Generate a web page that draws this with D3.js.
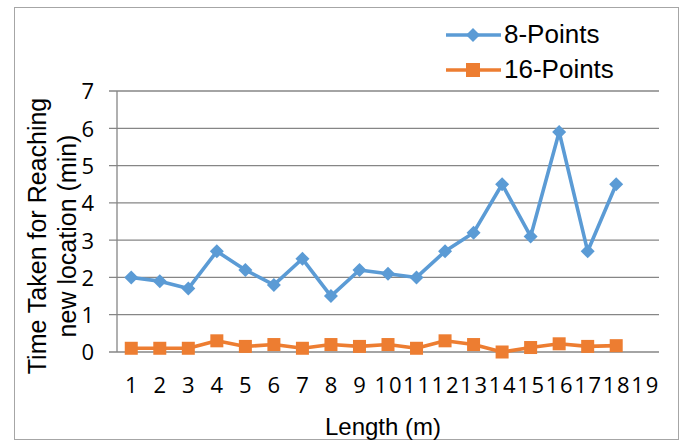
<!DOCTYPE html>
<html><head><meta charset="utf-8">
<script src="https://cdn.jsdelivr.net/npm/d3@7"></script>
<style>body{margin:0;background:#fff}svg{display:block}</style>
</head><body><svg id="c" width="683" height="441"></svg>
<script>
const categories = d3.range(1, 20).map(String);
const series8 = [2.0, 1.9, 1.7, 2.7, 2.2, 1.8, 2.5, 1.5, 2.2, 2.1, 2.0, 2.7, 3.2, 4.5, 3.1, 5.9, 2.7, 4.5];
const series16 = [0.1, 0.1, 0.1, 0.3, 0.15, 0.2, 0.1, 0.2, 0.15, 0.2, 0.1, 0.3, 0.2, 0.0, 0.12, 0.22, 0.15, 0.17];
const yTicks = [0, 1, 2, 3, 4, 5, 6, 7];
const seriesNames = ["8-Points", "16-Points"];
const colors = ["#5B9BD5", "#ED7D31"];

const svg = d3.select("#c");
const font = "'Liberation Sans', Arial, sans-serif";
const tickFont = "'Open Sans', 'Noto Sans', sans-serif";
svg.append("rect").attr("x", 14.5).attr("y", 7.5).attr("width", 664).attr("height", 432)
  .attr("fill", "#fff").attr("stroke", "#a6a6a6").attr("stroke-width", 1);

const L = 117, R = 659, T = 91, B = 352;
const x = d3.scaleBand().domain(categories).range([L, R]);
const y = d3.scaleLinear().domain([0, 7]).range([B, T]);

// gridlines
svg.append("g").selectAll("line").data(yTicks).join("line")
  .attr("x1", L - 8).attr("x2", R).attr("y1", d => y(d)).attr("y2", d => y(d))
  .attr("stroke", "#868686").attr("stroke-width", 1.3);
svg.append("line").attr("x1", L).attr("x2", L).attr("y1", T).attr("y2", B)
  .attr("stroke", "#868686").attr("stroke-width", 1.3);

// y axis labels
const yAxis = d3.axisLeft(y).tickValues(yTicks).tickFormat(d3.format("d")).tickSize(0).tickPadding(23);
const gy = svg.append("g").attr("transform", `translate(${L},0)`).call(yAxis);
gy.select(".domain").remove();
gy.selectAll("text").attr("font-family", tickFont).attr("font-size", 22).attr("fill", "#000").attr("dy", "0.36em");

// x axis labels
const ls = 1.8;
const xAxis = d3.axisBottom(x).tickSize(0);
const gx = svg.append("g").attr("transform", `translate(0,${B})`).call(xAxis);
gx.select(".domain").remove();
gx.selectAll("text").attr("font-family", tickFont).attr("font-size", 22).attr("fill", "#000")
  .attr("y", 41).attr("dy", 0).attr("dx", ls / 2).style("letter-spacing", ls + "px");

const cx = i => x(categories[i]) + x.bandwidth() / 2;
const line = d3.line().x((d, i) => cx(i)).y(d => y(d));
const diamond = d3.symbol(d3.symbolDiamond2 || d3.symbolDiamond, 125)();

// series 8
svg.append("path").datum(series8).attr("d", line).attr("fill", "none")
  .attr("stroke", colors[0]).attr("stroke-width", 3.6).attr("stroke-linejoin", "round");
svg.append("g").selectAll("path").data(series8).join("path")
  .attr("d", diamond)
  .attr("transform", (d, i) => `translate(${cx(i)},${y(d)})`)
  .attr("fill", colors[0]);

// series 16
svg.append("path").datum(series16).attr("d", line).attr("fill", "none")
  .attr("stroke", colors[1]).attr("stroke-width", 3.6).attr("stroke-linejoin", "round");
svg.append("g").selectAll("rect").data(series16).join("rect")
  .attr("x", (d, i) => cx(i) - 6.5).attr("y", d => y(d) - 6.5)
  .attr("width", 13).attr("height", 13).attr("fill", colors[1]);

// legend
const leg = svg.append("g");
[0, 1].forEach(k => {
  const ly = 35 + k * 35;
  leg.append("line").attr("x1", 446).attr("x2", 501).attr("y1", ly).attr("y2", ly)
    .attr("stroke", colors[k]).attr("stroke-width", 3.6);
  if (k === 0) {
    leg.append("path").attr("d", diamond)
      .attr("transform", `translate(473,${ly})`).attr("fill", colors[0]);
  } else {
    leg.append("rect").attr("x", 466).attr("y", ly - 7).attr("width", 14).attr("height", 14).attr("fill", colors[1]);
  }
  leg.append("text").attr("x", 504).attr("y", ly + 8)
    .attr("font-family", font).attr("font-size", 26).text(seriesNames[k]);
});

// axis titles
svg.append("text").attr("x", 383).attr("y", 435).attr("text-anchor", "middle")
  .attr("font-family", font).attr("font-size", 24).text("Length (m)");
const yt = svg.append("text").attr("transform", `translate(0,236) rotate(-90)`)
  .attr("text-anchor", "middle").attr("font-family", font).attr("font-size", 25);
yt.append("tspan").attr("x", 0).attr("y", 46).text("Time Taken for Reaching");
yt.append("tspan").attr("x", 0).attr("y", 76).text("new location (min)");
</script></body></html>
